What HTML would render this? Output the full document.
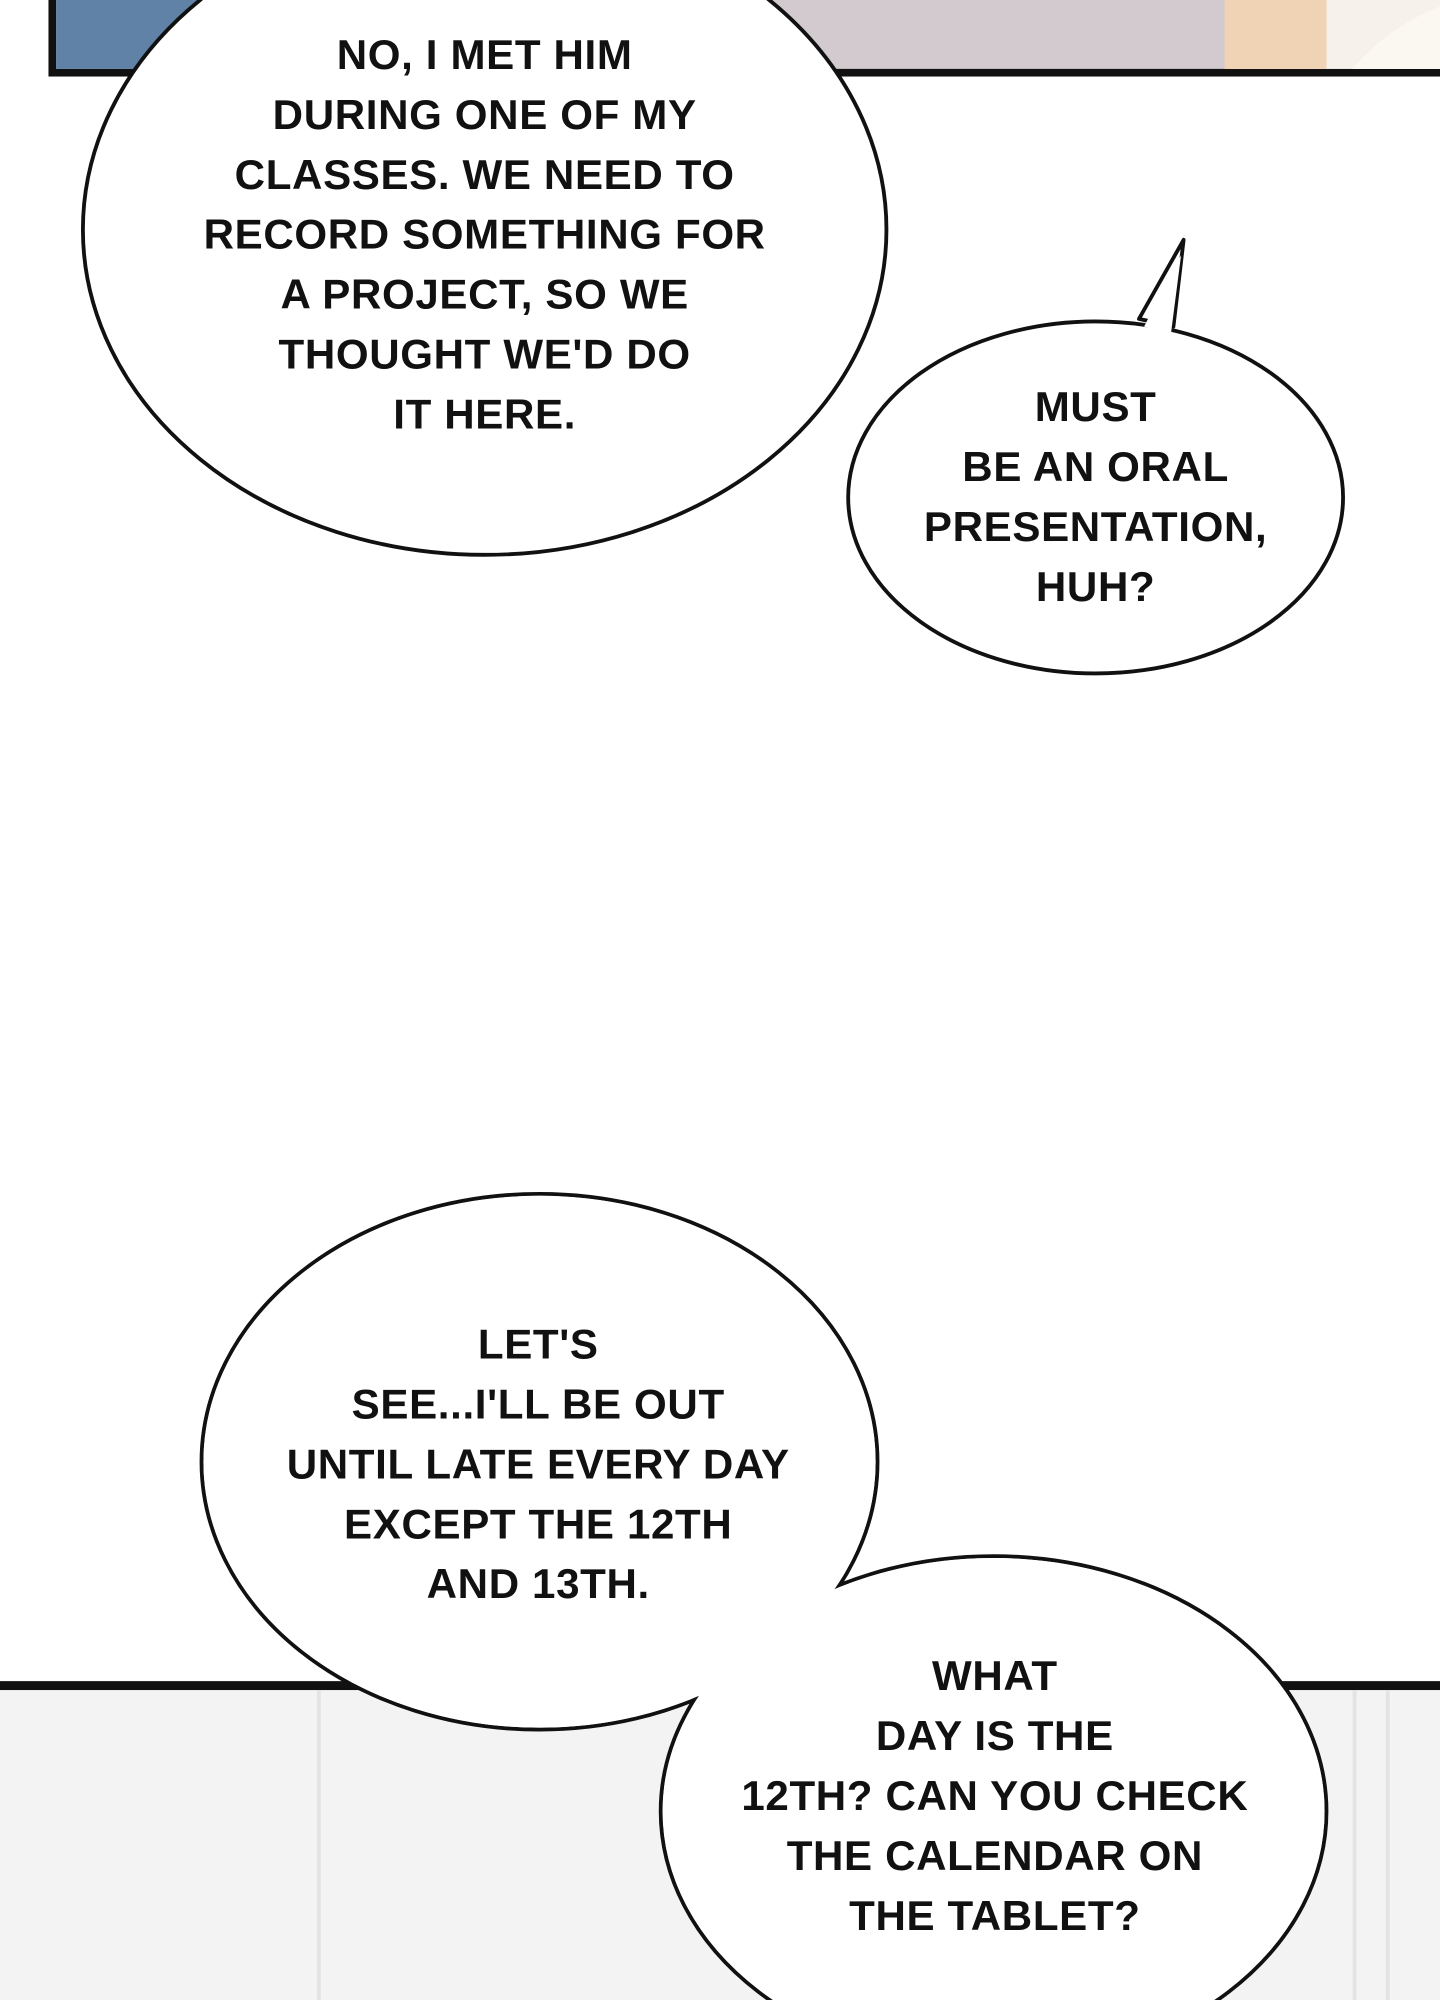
<!DOCTYPE html>
<html><head><meta charset="utf-8"><style>
html,body{margin:0;padding:0;background:#fff;}
svg{display:block;}
text{font-family:"Liberation Sans",sans-serif;font-size:33px;font-weight:bold;fill:#111;text-anchor:middle;letter-spacing:0.5px;}
</style></head><body>
<svg width="1440" height="2000" viewBox="0 0 1129 1568" preserveAspectRatio="none" xmlns="http://www.w3.org/2000/svg">
<rect x="0" y="0" width="1129" height="1568" fill="#ffffff"/>
<!-- top panel -->
<rect x="38" y="0" width="1091" height="60" fill="#111"/>
<rect x="44" y="0" width="1085" height="54" fill="#d2cace"/>
<rect x="44" y="0" width="136" height="54" fill="#5f82a6"/>
<rect x="965" y="0" width="164" height="54" fill="#f6f1ea"/>
<rect x="960" y="0" width="80" height="54" fill="#f0d2b4"/>
<path d="M1060,54 Q1090,20 1129,5 L1129,54 Z" fill="#fbf8f2"/>
<!-- bottom panel -->
<rect x="0" y="1318" width="1129" height="250" fill="#111"/>
<rect x="0" y="1325" width="1129" height="243" fill="#f4f3f3"/>
<line x1="250" y1="1325" x2="250" y2="1568" stroke="#e4e2e2" stroke-width="3"/>
<line x1="1062" y1="1325" x2="1062" y2="1568" stroke="#e4e2e2" stroke-width="3"/>
<line x1="1088" y1="1325" x2="1088" y2="1568" stroke="#e4e2e2" stroke-width="3"/>
<!-- bubble 1 -->
<ellipse cx="380" cy="180" rx="315" ry="255" fill="#fff" stroke="#111" stroke-width="3"/>
<!-- bubble 2 with tail -->
<path d="M893,250 L928,188 L920,256 Z" fill="#fff" stroke="#111" stroke-width="3" stroke-linejoin="round"/>
<ellipse cx="859" cy="390" rx="194" ry="138" fill="#fff" stroke="#111" stroke-width="3"/>
<path d="M897,256 L926,200 L918,262 Z" fill="#fff"/>
<!-- bubbles 3 & 4 merged -->
<ellipse cx="423" cy="1146" rx="265" ry="210" fill="#fff" stroke="#111" stroke-width="3"/>
<ellipse cx="779" cy="1420" rx="261" ry="200" fill="#fff" stroke="#111" stroke-width="3"/>
<ellipse cx="423" cy="1146" rx="263.5" ry="208.5" fill="#fff"/>
<ellipse cx="779" cy="1420" rx="259.5" ry="198.5" fill="#fff"/>
<!-- text -->
<text x="380" y="54">NO, I MET HIM</text>
<text x="380" y="101">DURING ONE OF MY</text>
<text x="380" y="148">CLASSES. WE NEED TO</text>
<text x="380" y="195">RECORD SOMETHING FOR</text>
<text x="380" y="242">A PROJECT, SO WE</text>
<text x="380" y="289">THOUGHT WE'D DO</text>
<text x="380" y="336">IT HERE.</text>
<text x="859" y="330">MUST</text>
<text x="859" y="377">BE AN ORAL</text>
<text x="859" y="424">PRESENTATION,</text>
<text x="859" y="471">HUH?</text>
<text x="422" y="1065">LET'S</text>
<text x="422" y="1112">SEE...I'LL BE OUT</text>
<text x="422" y="1159">UNTIL LATE EVERY DAY</text>
<text x="422" y="1206">EXCEPT THE 12TH</text>
<text x="422" y="1253">AND 13TH.</text>
<text x="780" y="1325">WHAT</text>
<text x="780" y="1372">DAY IS THE</text>
<text x="780" y="1419">12TH? CAN YOU CHECK</text>
<text x="780" y="1466">THE CALENDAR ON</text>
<text x="780" y="1513">THE TABLET?</text>
</svg>
</body></html>
